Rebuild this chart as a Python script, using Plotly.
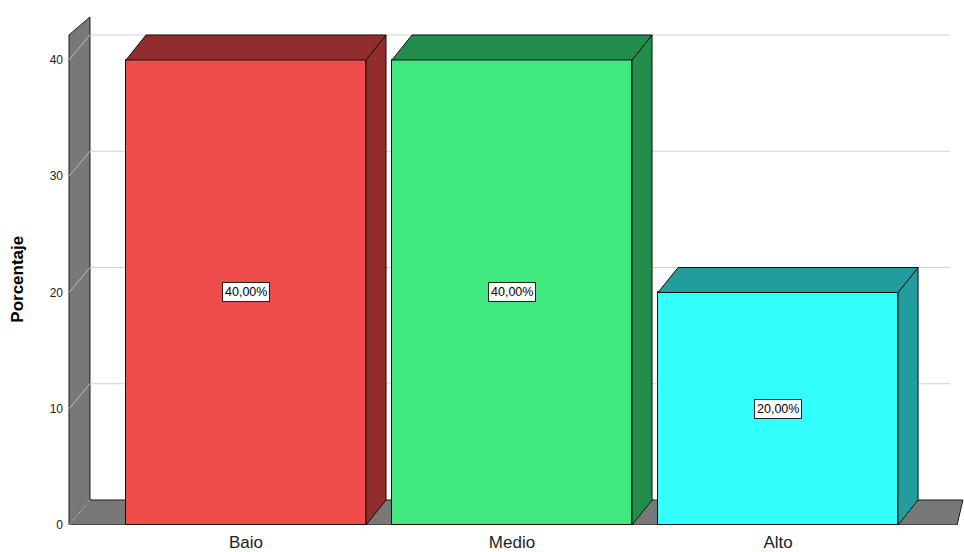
import plotly.graph_objects as go

# Data
categories = ["Baio", "Medio", "Alto"]
percentages = [40.0, 40.0, 20.0]
y_ticks = [0, 10, 20, 30, 40]

front_colors = ["#EE4B4B", "#41E880", "#33FFFF"]
shade_colors = ["#922D2E", "#238D4D", "#219D9D"]
wall_color = "#787878"
grid_color = "#D2D2D2"
font_family = "Liberation Sans, Arial, sans-serif"

# Pseudo-3D geometry (data units)
bar_width = 0.9023
depth_x = 0.0752           # horizontal offset of the back faces
depth_y = 2.15             # vertical offset of the back faces
wall_front_x = -0.6654
wall_back_x = -0.5865
wall_top_front = 42.15
wall_top_back = 43.70
floor_front_right = 2.673
floor_back_right = 2.695
grid_right = 2.647

x_range = [-0.6729, 2.699]
y_range = [0, 45.16]

x_pos = list(range(len(categories)))

fig = go.Figure()

shapes = []
# Left wall
shapes.append(dict(
    type="path", layer="below", xref="x", yref="y",
    path=(f"M {wall_front_x},0 L {wall_front_x},{wall_top_front} "
          f"L {wall_back_x},{wall_top_back} L {wall_back_x},{depth_y} Z"),
    fillcolor=wall_color, line=dict(color="#1A1A1A", width=1)))
# Floor
shapes.append(dict(
    type="path", layer="below", xref="x", yref="y",
    path=(f"M {wall_front_x},0 L {wall_back_x},{depth_y} "
          f"L {floor_back_right},{depth_y} L {floor_front_right},0 Z"),
    fillcolor=wall_color, line=dict(color="#1A1A1A", width=1)))
# Gridlines: diagonal across the wall, then along the back plane
for v in y_ticks:
    shapes.append(dict(
        type="line", layer="below", xref="x", yref="y",
        x0=wall_front_x, y0=v, x1=wall_back_x, y1=v + depth_y,
        line=dict(color="#BDBDBD", width=1)))
    if v > 0:
        shapes.append(dict(
            type="line", layer="below", xref="x", yref="y",
            x0=wall_back_x, y0=v + depth_y, x1=grid_right, y1=v + depth_y,
            line=dict(color=grid_color, width=1)))

# Front faces of the bars
fig.add_trace(go.Bar(
    x=x_pos, y=percentages, width=bar_width,
    marker=dict(color=front_colors, line=dict(color="#111111", width=1)),
    hoverinfo="skip", showlegend=False))

# Top and side faces of each bar
half = bar_width / 2
for xc, v, col in zip(x_pos, percentages, shade_colors):
    side_x = [xc + half, xc + half + depth_x, xc + half + depth_x, xc + half, xc + half]
    side_y = [0, depth_y, v + depth_y, v, 0]
    top_x = [xc - half, xc - half + depth_x, xc + half + depth_x, xc + half, xc - half]
    top_y = [v, v + depth_y, v + depth_y, v, v]
    for px, py in ((side_x, side_y), (top_x, top_y)):
        fig.add_trace(go.Scatter(
            x=px, y=py, mode="lines", fill="toself", fillcolor=col,
            line=dict(color="#111111", width=1),
            hoverinfo="skip", showlegend=False))

# Value labels
annotations = []
for xc, v in zip(x_pos, percentages):
    label = f"{v:.2f}".replace(".", ",") + "%"
    annotations.append(dict(
        x=xc, y=v / 2, xref="x", yref="y", text=label, showarrow=False,
        font=dict(family=font_family, size=12.5, color="#000000"),
        bgcolor="#FFFFFF", bordercolor="#222222", borderwidth=1, borderpad=2))

# Axis title, placed beside the tick labels
annotations.append(dict(
    x=(18 - 67) / 897, xref="x domain", xanchor="center",
    y=21.1, yref="y", yanchor="middle",
    text="<b>Porcentaje</b>", textangle=-90, showarrow=False,
    font=dict(family=font_family, size=17, color="#000000")))

fig.update_layout(
    width=964, height=552,
    margin=dict(l=67, r=0, t=0, b=27),
    paper_bgcolor="#FFFFFF", plot_bgcolor="#FFFFFF",
    shapes=shapes, annotations=annotations,
    font=dict(family=font_family, color="#000000"),
    bargap=0,
    xaxis=dict(
        range=x_range, tickvals=x_pos, ticktext=categories,
        showgrid=False, zeroline=False, showline=False,
        ticks="", ticklabelstandoff=5,
        tickfont=dict(size=17, color="#222222"),
        automargin=False, fixedrange=True),
    yaxis=dict(
        range=y_range, tickvals=y_ticks,
        showgrid=False, zeroline=False, showline=False,
        ticks="", ticklabelstandoff=3,
        tickfont=dict(size=12, color="#222222"),
        automargin=False, fixedrange=True),
)

fig.write_html("out.html")
